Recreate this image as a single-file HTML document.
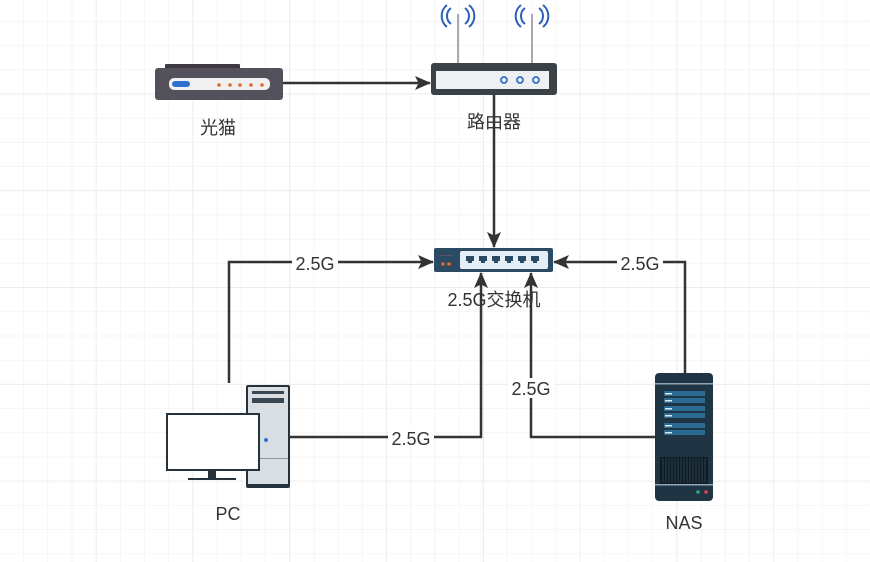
<!DOCTYPE html>
<html><head><meta charset="utf-8"><style>
html,body{margin:0;padding:0;background:#fff}
svg{display:block}
text{font-family:"Liberation Sans","Noto Sans CJK SC",sans-serif;fill:#333}
</style></head><body>
<svg width="870" height="562" viewBox="0 0 870 562" xmlns="http://www.w3.org/2000/svg">
<defs>
<pattern id="g" width="24.2" height="24.2" patternUnits="userSpaceOnUse" x="-0.3" y="-2.5">
<path d="M24.2 0V24.2M0 24.2H24.2" stroke="#efefef" stroke-width="1.2" fill="none"/>
</pattern>
<pattern id="G" width="96.8" height="96.8" patternUnits="userSpaceOnUse" x="-0.3" y="-2.5">
<path d="M96.8 0V96.8M0 96.8H96.8" stroke="#e9e9e9" stroke-width="1.5" fill="none"/>
</pattern>
<marker id="a" markerWidth="16" markerHeight="14" refX="15" refY="7" orient="auto" markerUnits="userSpaceOnUse" viewBox="0 0 16 14">
<path d="M0,0L16,7L0,14L3.5,7Z" fill="#333"/>
</marker>
</defs>
<rect width="870" height="562" fill="url(#g)"/>
<rect width="870" height="562" fill="url(#G)"/>

<g stroke="#333" stroke-width="2.5" fill="none">
<path d="M283 83H430" marker-end="url(#a)"/>
<path d="M494 95V247" marker-end="url(#a)"/>
<path d="M229 383V262H433" marker-end="url(#a)"/>
<path d="M685 373V262H554" marker-end="url(#a)"/>
<path d="M290 437H481V273" marker-end="url(#a)"/>
<path d="M655 437H531V273" marker-end="url(#a)"/>
</g>
<g font-size="18" text-anchor="middle">
<rect x="292" y="253" width="46" height="20" fill="#fff"/><text x="315" y="270">2.5G</text>
<rect x="617" y="253" width="46" height="20" fill="#fff"/><text x="640" y="270">2.5G</text>
<rect x="388" y="428" width="46" height="20" fill="#fff"/><text x="411" y="445">2.5G</text>
<rect x="508" y="378" width="46" height="20" fill="#fff"/><text x="531" y="395">2.5G</text>
</g>

<rect x="165" y="64" width="75" height="6" rx="1" fill="#3d3a44"/>
<rect x="155" y="68" width="128" height="32" rx="3" fill="#55515b"/>
<rect x="169" y="78" width="101" height="12" rx="5" fill="#f0f0f0"/>
<rect x="172" y="81" width="18" height="6" rx="3" fill="#2f6fd0"/>
<g fill="#e06a30"><circle cx="219" cy="85" r="1.8"/><circle cx="230" cy="85" r="1.8"/><circle cx="240" cy="85" r="1.8"/><circle cx="251" cy="85" r="1.8"/><circle cx="262" cy="85" r="1.8"/></g>
<text x="218" y="134" font-size="18" text-anchor="middle">光猫</text>

<g stroke="#aaa" stroke-width="2"><path d="M458 14V63M532 14V63"/></g>
<g stroke="#2b5fb8" stroke-width="2" fill="none">
<path d="M451 8a10 10 0 0 0 0 16M447 5a14 14 0 0 0 0 22M465 8a10 10 0 0 1 0 16M469 5a14 14 0 0 1 0 22"/>
<path d="M525 8a10 10 0 0 0 0 16M521 5a14 14 0 0 0 0 22M539 8a10 10 0 0 1 0 16M543 5a14 14 0 0 1 0 22"/>
</g>
<rect x="431" y="63" width="126" height="32" rx="3" fill="#3a4147"/>
<rect x="436" y="71" width="113" height="18" fill="#eef0f2"/>
<g stroke="#2f6fd0" stroke-width="1.8" fill="none"><circle cx="504" cy="80" r="3"/><circle cx="520" cy="80" r="3"/><circle cx="536" cy="80" r="3"/></g>
<text x="494" y="128" font-size="18" text-anchor="middle">路由器</text>

<rect x="434" y="248" width="119" height="24" rx="2" fill="#2b4a63"/>
<rect x="460" y="251" width="88" height="18" rx="2" fill="#e3eef6"/>
<g fill="#2b4a63">
<path d="M466 256h8v5h-2v2h-4v-2h-2z"/><path d="M479 256h8v5h-2v2h-4v-2h-2z"/><path d="M492 256h8v5h-2v2h-4v-2h-2z"/><path d="M505 256h8v5h-2v2h-4v-2h-2z"/><path d="M518 256h8v5h-2v2h-4v-2h-2z"/><path d="M531 256h8v5h-2v2h-4v-2h-2z"/>
</g>
<rect x="440" y="255" width="13" height="1" fill="#556"/>
<circle cx="443" cy="264" r="1.8" fill="#e06a30"/><circle cx="449" cy="264" r="1.8" fill="#e06a30"/>
<text x="494" y="306" font-size="18" text-anchor="middle">2.5G交换机</text>

<rect x="246" y="385" width="44" height="103" rx="2" fill="#25313b"/>
<rect x="248" y="387" width="40" height="97" fill="#d9dee3"/>
<rect x="252" y="391" width="32" height="3" fill="#3a4652"/>
<rect x="252" y="398" width="32" height="5" fill="#3a4652"/>
<rect x="248" y="458" width="40" height="1" fill="#8a96a0"/>
<circle cx="266" cy="440" r="2" fill="#2f6fd0"/>
<rect x="166" y="413" width="94" height="58" fill="#25313b"/>
<rect x="168" y="415" width="90" height="54" fill="#fff"/>
<rect x="208" y="471" width="8" height="7" fill="#25313b"/>
<rect x="188" y="478" width="48" height="2" fill="#25313b"/>
<text x="228" y="520" font-size="18" text-anchor="middle">PC</text>

<rect x="655" y="373" width="58" height="128" rx="4" fill="#203544"/>
<rect x="655" y="383" width="58" height="1.5" fill="#8fa7b8"/>
<g fill="#2b6a92"><rect x="664" y="391" width="41" height="5"/><rect x="664" y="398" width="41" height="5"/><rect x="664" y="406" width="41" height="5"/><rect x="664" y="413" width="41" height="5"/><rect x="664" y="423" width="41" height="5"/><rect x="664" y="430" width="41" height="5"/></g>
<g fill="#dfe8ee"><rect x="665" y="393" width="7" height="1.5"/><rect x="665" y="400" width="7" height="1.5"/><rect x="665" y="408" width="7" height="1.5"/><rect x="665" y="415" width="7" height="1.5"/><rect x="665" y="425" width="7" height="1.5"/><rect x="665" y="432" width="7" height="1.5"/></g>
<rect x="660" y="457" width="48" height="27" fill="#0f1c26"/>
<g stroke="#2a3f4e" stroke-width="1"><path d="M663 458v25M666 458v25M669 458v25M672 458v25M675 458v25M678 458v25M681 458v25M684 458v25M687 458v25M690 458v25M693 458v25M696 458v25M699 458v25M702 458v25M705 458v25"/></g>
<rect x="655" y="484" width="58" height="1.5" fill="#8fa7b8"/>
<circle cx="698" cy="492" r="1.8" fill="#2fb070"/><circle cx="706" cy="492" r="1.8" fill="#e04050"/>
<text x="684" y="529" font-size="18" text-anchor="middle">NAS</text>
</svg>
</body></html>
